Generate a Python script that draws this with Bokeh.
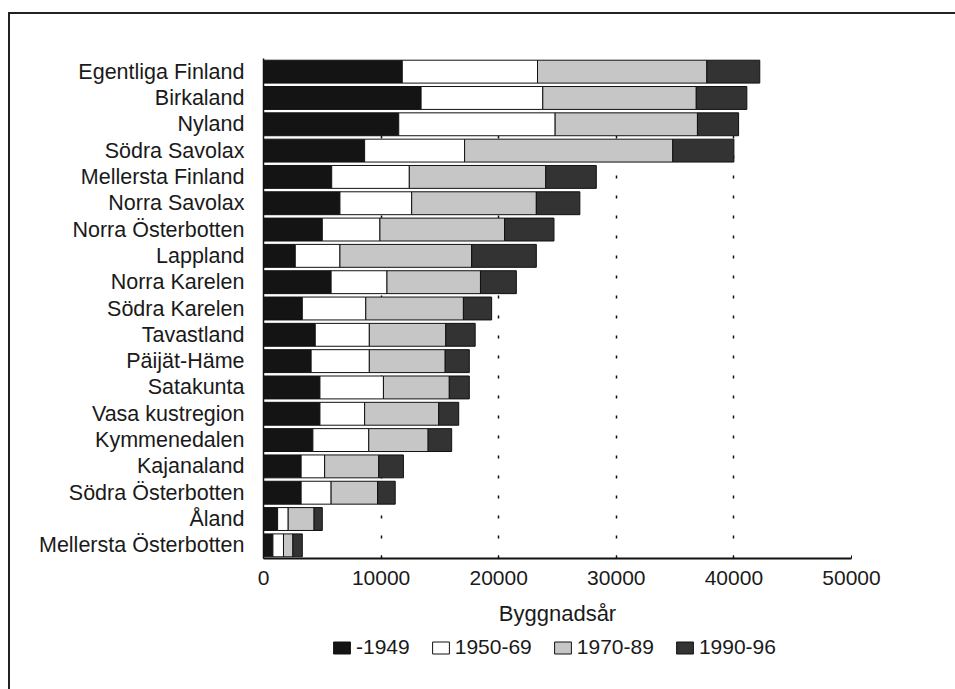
from bokeh.plotting import figure
from bokeh.layouts import column
from bokeh.models import (FactorRange, Range1d, Legend, LegendItem, FixedTicker,
                          NumeralTickFormatter, ColumnDataSource)
from bokeh.embed import file_html
from bokeh.resources import INLINE

regions = ["Egentliga Finland", "Birkaland", "Nyland", "Södra Savolax",
           "Mellersta Finland", "Norra Savolax", "Norra Österbotten", "Lappland",
           "Norra Karelen", "Södra Karelen", "Tavastland", "Päijät-Häme",
           "Satakunta", "Vasa kustregion", "Kymmenedalen", "Kajanaland",
           "Södra Österbotten", "Åland", "Mellersta Österbotten"]

series_labels = ["-1949", "1950-69", "1970-89", "1990-96"]

before_1949 = [11800, 13400, 11500, 8600, 5800, 6500, 5000, 2700, 5750, 3300,
               4400, 4050, 4800, 4800, 4200, 3200, 3200, 1200, 800]
y1950_69 = [11500, 10350, 13300, 8500, 6600, 6100, 4900, 3800, 4750, 5400,
            4600, 4950, 5400, 3800, 4750, 2000, 2550, 900, 900]
y1970_89 = [14400, 13050, 12100, 17700, 11600, 10600, 10600, 11200, 7950, 8300,
            6500, 6450, 5600, 6300, 5050, 4600, 3950, 2200, 800]
y1990_96 = [4500, 4300, 3500, 5200, 4300, 3700, 4200, 5500, 3050, 2400,
            2500, 2050, 1700, 1700, 2000, 2100, 1500, 700, 800]

x_ticks = [0, 10000, 20000, 30000, 40000, 50000]
x_title = "Byggnadsår"

keys = ["s1", "s2", "s3", "s4"]
source = ColumnDataSource(dict(region=regions, s1=before_1949, s2=y1950_69,
                               s3=y1970_89, s4=y1990_96))

FONT = "Liberation Sans"
TXT = "#1a1a1a"
fills = ["#141414", "#ffffff", "#c6c6c6", "#333333"]

p = figure(width=945, height=620, output_backend="svg", toolbar_location=None,
           y_range=FactorRange(*reversed(regions), range_padding=0),
           x_range=Range1d(0, 50000),
           min_border_left=253, min_border_top=44, min_border_right=104,
           min_border_bottom=76)
p.outline_line_color = None
p.background_fill_color = "white"

p.hbar_stack(keys, y="region", height=0.87, source=source,
             color=fills, line_color="#111111", line_width=1)

# grid
p.ygrid.grid_line_color = None
p.xgrid.ticker = FixedTicker(ticks=x_ticks[1:])
p.xgrid.grid_line_color = "#111111"
p.xgrid.grid_line_dash = "3 17"
p.xgrid.grid_line_width = 1.5
p.xgrid.level = "underlay"

# x axis
xa = p.xaxis[0]
xa.ticker = FixedTicker(ticks=x_ticks)
xa.formatter = NumeralTickFormatter(format="0")
xa.axis_line_width = 2
xa.axis_line_color = "#111111"
xa.major_tick_in = 3
xa.major_tick_out = 0
xa.minor_tick_line_color = None
xa.major_tick_line_color = "#111111"
xa.major_label_text_font = FONT
xa.major_label_text_font_size = "21px"
xa.major_label_text_color = TXT
xa.major_label_standoff = 12
xa.axis_label = x_title
xa.axis_label_text_font = FONT
xa.axis_label_text_font_size = "22px"
xa.axis_label_text_font_style = "normal"
xa.axis_label_text_color = TXT
xa.axis_label_standoff = 13

# y axis
ya = p.yaxis[0]
ya.axis_line_color = "#111111"
ya.axis_line_width = 1.5
ya.major_tick_line_color = None
ya.minor_tick_line_color = None
ya.major_label_text_font = FONT
ya.major_label_text_font_size = "21.5px"
ya.major_label_text_color = TXT
ya.major_label_standoff = 13

# legend strip below (swatch renderers sit outside the visible range)
p2 = figure(width=945, height=55, output_backend="svg", toolbar_location=None,
            x_range=Range1d(0, 1), y_range=Range1d(0, 1), min_border=0)
p2.axis.visible = False
p2.grid.visible = False
p2.outline_line_color = None
dummies = [p2.hbar(y=[-5], left=[-5], right=[-4], height=0.1, fill_color=c,
                   line_color="#111111", line_width=1)
           for c in fills]
legend = Legend(items=[LegendItem(label=lab, renderers=[r]) for lab, r in zip(series_labels, dummies)],
                orientation="horizontal", location=(68, 30),
                glyph_width=21, glyph_height=15, label_standoff=4, spacing=20,
                padding=0, margin=0, border_line_color=None,
                background_fill_alpha=0,
                label_text_font=FONT, label_text_font_size="21px",
                label_text_color=TXT)
p2.add_layout(legend, "center")

layout = column(p, p2, spacing=0)
layout.styles = {"border-left": "2px solid #222", "border-top": "2px solid #222",
                 "margin-top": "12px", "margin-left": "8px"}

open("out.html", "w").write(file_html(layout, INLINE))
